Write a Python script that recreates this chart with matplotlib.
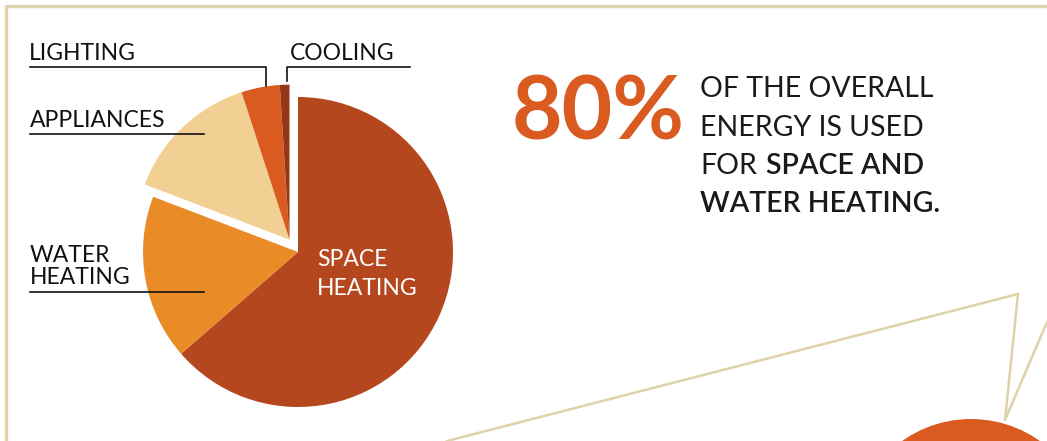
import matplotlib.pyplot as plt
import numpy as np

# energy use shares (%)
categories = ['SPACE\nHEATING', 'WATER\nHEATING', 'APPLIANCES', 'LIGHTING', 'COOLING']
shares = [63.6, 17.2, 14.2, 4.0, 1.0]
colors = ['#B5471F', '#E98C28', '#F2CF92', '#D95B20', '#93361A']
grouped = [2, 3, 4]  # slices pulled out together

headline = '80%'
lines_light = ['OF THE OVERALL', 'ENERGY IS USED', 'FOR']
lines_bold = ['SPACE AND', 'WATER HEATING.']

W, H = 1047, 441
tan = '#DDD2A8'
orange = '#D95B20'
plt.rcParams['font.family'] = ['Lato', 'DejaVu Sans']


def Y(y):
    # image pixel row -> data y
    return H - y


fig = plt.figure(figsize=(W / 100, H / 100), dpi=100)
ax = fig.add_axes([0, 0, 1, 1])

cx, cy, r = 298, Y(252), 155
wedges, _ = ax.pie(shares, colors=colors, startangle=90, counterclock=False,
                   radius=r, center=(cx, cy), wedgeprops=dict(linewidth=0))

# shift the small group outwards along its middle angle
grp = sum(shares[i] for i in grouped) / sum(shares)
mid = np.deg2rad(90 + grp * 180)
off = 15
for i in grouped:
    wedges[i].set_center((cx + off * np.cos(mid), cy + off * np.sin(mid)))

ax.set_xlim(0, W)
ax.set_ylim(0, H)
ax.set_aspect('auto')
ax.axis('off')

# frame and callout lines
ax.plot([6, 6, W], [Y(H), Y(6), Y(6)], color=tan, lw=2.4, solid_capstyle='butt')
ax.plot([447, 1018, 1005, 1047], [Y(441), Y(294), Y(420), Y(322)], color=tan, lw=1.8)
ax.add_patch(plt.Circle((971, Y(538)), 119, color=orange, lw=0))

# labels with leader lines
lab = dict(fontsize=16.5, color='#111111', va='baseline')
ln = dict(color='#111111', lw=1.2)
ax.text(29, Y(60), 'LIGHTING', **lab)
ax.plot([30, 266, 266], [Y(67), Y(67), Y(86)], **ln)
ax.text(290, Y(60), 'COOLING', **lab)
ax.plot([410, 287, 287], [Y(67), Y(67), Y(81)], **ln)
ax.text(30, Y(127), 'APPLIANCES', **lab)
ax.plot([30, 204], [Y(134), Y(134)], **ln)
ax.text(30, Y(262), 'WATER', **lab)
ax.text(30, Y(284), 'HEATING', **lab)
ax.plot([30, 204], [Y(292), Y(292)], **ln)
ax.text(317, Y(266), 'SPACE', fontsize=16.5, color='white', va='baseline')
ax.text(317, Y(295), 'HEATING', fontsize=16.5, color='white', va='baseline')

# headline
ax.text(512, Y(140), headline, fontsize=63, fontweight='bold', color=orange, va='baseline')
txt = dict(fontsize=20.5, color='#1a1a1a', va='baseline')
base = [97, 136, 174, 212]
ax.text(700, Y(base[0]), lines_light[0], fontweight='normal', **txt)
ax.text(700, Y(base[1]), lines_light[1], fontweight='normal', **txt)
ax.text(700, Y(base[2]), lines_light[2], fontweight='normal', **txt)
ax.text(766, Y(base[2]), lines_bold[0], fontweight='semibold', **txt)
ax.text(700, Y(base[3]), lines_bold[1], fontweight='semibold', **txt)

fig.savefig('out.png', dpi=100)
